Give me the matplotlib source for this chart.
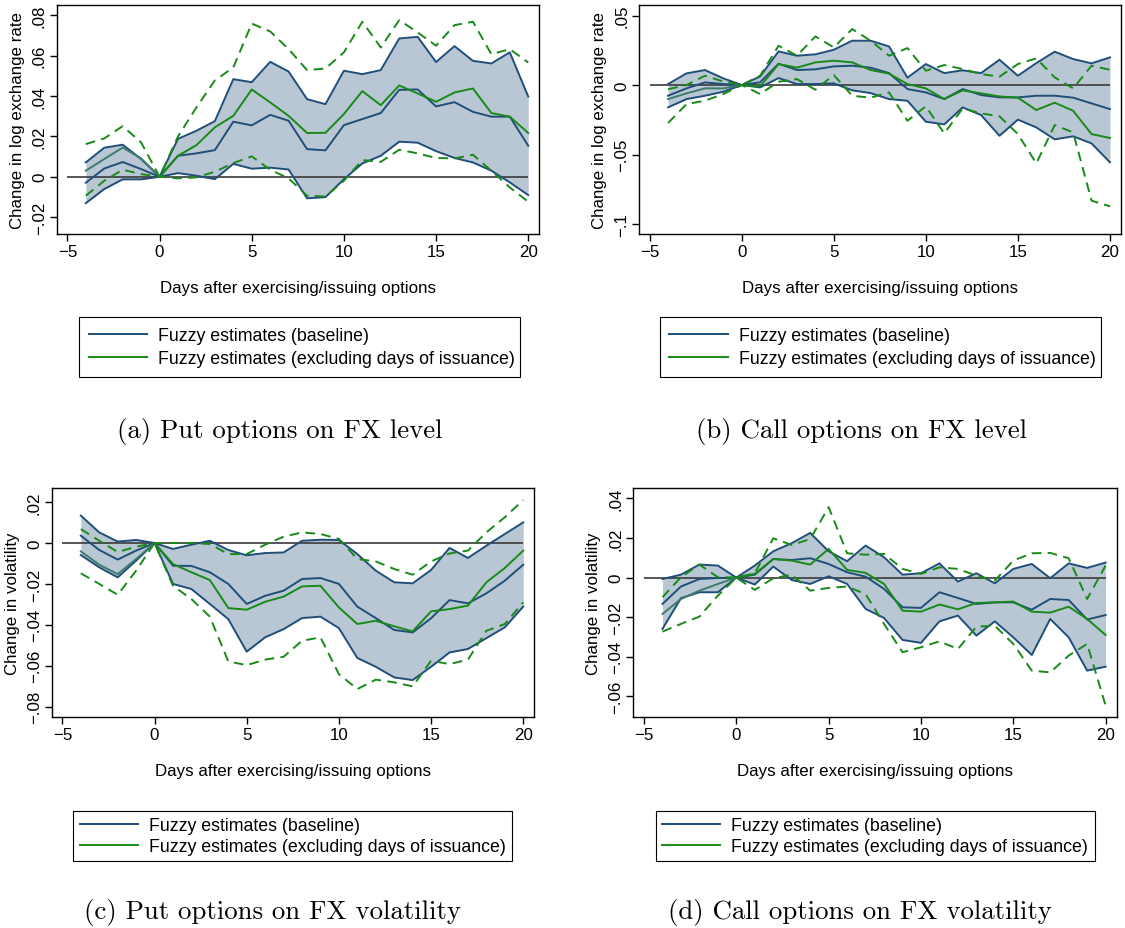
import numpy as np
import matplotlib.pyplot as plt
from matplotlib.lines import Line2D
from matplotlib.ticker import FuncFormatter

plt.rcParams['font.family'] = ['Liberation Sans', 'DejaVu Sans']

days = np.arange(-4, 21)
x_ticks = [-5, 0, 5, 10, 15, 20]

# (a) put options, FX level
a_base_hi = [0.0071, 0.0144, 0.0159, 0.0088, 0, 0.0188, 0.0228, 0.0276, 0.0484, 0.0469, 0.0570, 0.0522, 0.0385,
             0.0360, 0.0526, 0.0509, 0.0529, 0.0686, 0.0694, 0.0569, 0.0648, 0.0575, 0.0562, 0.0617, 0.0398]
a_base = [-0.0030, 0.0041, 0.0073, 0.0038, 0, 0.0104, 0.0116, 0.0132, 0.0273, 0.0255, 0.0307, 0.0278, 0.0137,
          0.0131, 0.0256, 0.0286, 0.0316, 0.0431, 0.0433, 0.0349, 0.0370, 0.0322, 0.0298, 0.0298, 0.0154]
a_base_lo = [-0.0131, -0.0061, -0.0013, -0.0013, 0, 0.0018, 0.0005, -0.0012, 0.0064, 0.0040, 0.0045, 0.0036, -0.0107,
             -0.0101, -0.0012, 0.0066, 0.0104, 0.0174, 0.0169, 0.0127, 0.0093, 0.0071, 0.0030, -0.0028, -0.0091]
a_excl = [0.0030, 0.0088, 0.0145, 0.0091, 0, 0.0104, 0.0157, 0.0245, 0.0302, 0.0433, 0.0369, 0.0302, 0.0217,
          0.0218, 0.0311, 0.0425, 0.0355, 0.0453, 0.0413, 0.0372, 0.0418, 0.0438, 0.0316, 0.0298, 0.0217]
a_excl_hi = [0.0162, 0.0190, 0.0251, 0.0170, 0, 0.0200, 0.0344, 0.0478, 0.0542, 0.0760, 0.0721, 0.0633, 0.0529,
             0.0537, 0.0617, 0.0769, 0.0641, 0.0777, 0.0716, 0.0650, 0.0752, 0.0769, 0.0608, 0.0633, 0.0567]
a_excl_lo = [-0.0094, -0.0020, 0.0035, 0.0013, 0, -0.0008, -0.0003, 0.0025, 0.0068, 0.0101, 0.0035, -0.0008, -0.0094,
             -0.0098, -0.0020, 0.0083, 0.0074, 0.0134, 0.0116, 0.0093, 0.0091, 0.0109, 0.0030, -0.0053, -0.0124]

# (b) call options, FX level
b_base_hi = [0.0007, 0.0084, 0.0108, 0.0048, 0, 0.0062, 0.0242, 0.0211, 0.0221, 0.0254, 0.0319, 0.0319, 0.0278,
             0.0053, 0.0151, 0.0086, 0.0106, 0.0086, 0.0182, 0.0067, 0.0158, 0.0240, 0.0187, 0.0156, 0.0199]
b_base = [-0.0077, -0.0024, 0.0019, 0.0007, 0, 0.0020, 0.0153, 0.0108, 0.0113, 0.0134, 0.0139, 0.0125, 0.0086,
          -0.0029, -0.0053, -0.0101, -0.0029, -0.0072, -0.0089, -0.0089, -0.0077, -0.0077, -0.0091, -0.0132, -0.0173]
b_base_lo = [-0.0161, -0.0101, -0.0077, -0.0048, 0, -0.0017, 0.0050, 0.0007, 0.0007, 0.0012, -0.0038, -0.0058, -0.0101,
             -0.0113, -0.0264, -0.0283, -0.0161, -0.0216, -0.0365, -0.0249, -0.0305, -0.0391, -0.0369, -0.0420, -0.0556]
b_excl = [-0.0101, -0.0060, -0.0024, -0.0024, 0, -0.0010, 0.0151, 0.0125, 0.0163, 0.0175, 0.0163, 0.0108, 0.0082,
          0.0007, -0.0024, -0.0101, -0.0038, -0.0060, -0.0082, -0.0091, -0.0180, -0.0127, -0.0185, -0.0353, -0.0381]
b_excl_hi = [-0.0030, 0.0000, 0.0067, 0.0025, 0, 0.0067, 0.0283, 0.0211, 0.0350, 0.0271, 0.0403, 0.0319, 0.0211,
             0.0266, 0.0103, 0.0144, 0.0115, 0.0079, 0.0060, 0.0151, 0.0192, 0.0055, -0.0024, 0.0139, 0.0110]
b_excl_lo = [-0.0273, -0.0137, -0.0113, -0.0065, 0, -0.0065, 0.0024, 0.0043, -0.0034, 0.0072, -0.0077, -0.0091, -0.0053,
             -0.0257, -0.0153, -0.0348, -0.0168, -0.0204, -0.0225, -0.0353, -0.0564, -0.0288, -0.0341, -0.0832, -0.0873]

# (c) put options, FX volatility
c_base_hi = [0.0134, 0.0052, 0.0007, 0.0015, 0, -0.0029, -0.0008, 0.0011, -0.0034, -0.0060, -0.0049, -0.0046, 0.0011,
             0.0016, 0.0015, -0.0054, -0.0135, -0.0192, -0.0197, -0.0132, -0.0024, -0.0073, -0.0013, 0.0044, 0.0101]
c_base = [0.0036, -0.0034, -0.0081, -0.0037, 0, -0.0111, -0.0112, -0.0143, -0.0200, -0.0298, -0.0258, -0.0233, -0.0176,
          -0.0171, -0.0200, -0.0311, -0.0367, -0.0425, -0.0437, -0.0368, -0.0279, -0.0295, -0.0246, -0.0184, -0.0106]
c_base_lo = [-0.0059, -0.0119, -0.0168, -0.0086, 0, -0.0200, -0.0225, -0.0298, -0.0372, -0.0531, -0.0461, -0.0421, -0.0367,
             -0.0360, -0.0416, -0.0562, -0.0605, -0.0657, -0.0670, -0.0605, -0.0535, -0.0518, -0.0465, -0.0412, -0.0311]
c_excl = [-0.0041, -0.0106, -0.0152, -0.0078, 0, -0.0103, -0.0143, -0.0181, -0.0318, -0.0326, -0.0287, -0.0262, -0.0212,
          -0.0209, -0.0315, -0.0396, -0.0380, -0.0407, -0.0432, -0.0334, -0.0323, -0.0306, -0.0192, -0.0122, -0.0037]
c_excl_hi = [0.0068, 0.0011, -0.0044, -0.0018, 0, 0.0000, 0.0000, -0.0005, -0.0054, -0.0054, -0.0008, 0.0031, 0.0052,
             0.0044, 0.0020, -0.0078, -0.0090, -0.0127, -0.0155, -0.0090, -0.0051, -0.0037, 0.0052, 0.0126, 0.0210]
c_excl_lo = [-0.0148, -0.0200, -0.0253, -0.0135, 0, -0.0209, -0.0274, -0.0360, -0.0579, -0.0597, -0.0570, -0.0556, -0.0478,
             -0.0461, -0.0641, -0.0714, -0.0668, -0.0681, -0.0701, -0.0575, -0.0592, -0.0570, -0.0429, -0.0396, -0.0290]

# (d) call options, FX volatility
d_base_hi = [-0.0007, 0.0015, 0.0066, 0.0061, 0, 0.0061, 0.0133, 0.0174, 0.0226, 0.0133, 0.0083, 0.0162, 0.0103,
             0.0015, 0.0022, 0.0072, -0.0020, 0.0022, -0.0029, 0.0044, 0.0069, -0.0003, 0.0072, 0.0049, 0.0076]
d_base = [-0.0133, -0.0045, -0.0007, -0.0002, 0, 0.0015, 0.0094, 0.0089, 0.0098, 0.0069, 0.0027, 0.0005, -0.0057,
          -0.0150, -0.0153, -0.0074, -0.0103, -0.0133, -0.0125, -0.0125, -0.0162, -0.0108, -0.0113, -0.0212, -0.0189]
d_base_lo = [-0.0259, -0.0104, -0.0074, -0.0074, 0, -0.0035, 0.0056, -0.0012, -0.0032, 0.0007, -0.0032, -0.0158, -0.0204,
             -0.0315, -0.0330, -0.0221, -0.0192, -0.0293, -0.0221, -0.0302, -0.0391, -0.0209, -0.0302, -0.0470, -0.0450]
d_excl = [-0.0184, -0.0108, -0.0066, -0.0032, 0, 0.0019, 0.0094, 0.0086, 0.0066, 0.0145, 0.0039, 0.0024, -0.0032,
          -0.0167, -0.0172, -0.0136, -0.0160, -0.0128, -0.0125, -0.0121, -0.0172, -0.0177, -0.0147, -0.0209, -0.0290]
d_excl_hi = [-0.0099, 0.0002, 0.0066, 0.0002, 0, 0.0022, 0.0199, 0.0165, 0.0195, 0.0356, 0.0123, 0.0116, 0.0120,
             0.0044, 0.0019, 0.0052, 0.0044, 0.0010, -0.0015, 0.0086, 0.0123, 0.0125, 0.0098, -0.0108, 0.0061]
d_excl_lo = [-0.0273, -0.0234, -0.0197, -0.0091, 0, -0.0062, -0.0003, 0.0015, -0.0066, -0.0052, -0.0045, -0.0083, -0.0234,
             -0.0377, -0.0352, -0.0322, -0.0361, -0.0248, -0.0243, -0.0335, -0.0470, -0.0479, -0.0394, -0.0335, -0.0647]

legend_labels = ['Fuzzy estimates (baseline)', 'Fuzzy estimates (excluding days of issuance)']
captions = ['(a) Put options on FX level', '(b) Call options on FX level',
            '(c) Put options on FX volatility', '(d) Call options on FX volatility']

NAVY = '#1f4e79'
GREEN = '#178a17'
GREEN_PRE = '#3d7c6c'   # green line where it sits under the shaded band
FILL = '#b9c7d4'
W, H = 1125, 929


def stata_fmt(v, pos):
    if abs(v) < 1e-12:
        return '0'
    s = f'{abs(v):.2f}'.rstrip('0').lstrip('0')
    return ('\u2212' if v < 0 else '') + s


def px_rect(left, top, right, bottom):
    return [left / W, 1 - bottom / H, (right - left) / W, (bottom - top) / H]


def draw_panel(ax, base_lo, base, base_hi, excl_lo, excl, excl_hi, yticks, ylim, ylabel):
    ax.fill_between(days, base_lo, base_hi, color=FILL, lw=0, zorder=1)
    ax.hlines(0, x_ticks[0], x_ticks[-1], color='#3a3a3a', lw=1.2, zorder=2)
    for s in (base_lo, base, base_hi):
        ax.plot(days, s, color=NAVY, lw=1.4, zorder=3)
    excl = np.asarray(excl)
    ax.plot(days[:5], excl[:5], color=GREEN_PRE, lw=1.4, zorder=4)
    ax.plot(days[4:], excl[4:], color=GREEN, lw=1.4, zorder=4)
    for s in (excl_lo, excl_hi):
        ax.plot(days, s, color=GREEN, lw=1.4, ls=(0, (5, 3.2)), zorder=4)

    ax.set_xlim(-5.58, 20.6)
    ax.set_ylim(*ylim)
    ax.set_xticks(x_ticks)
    ax.set_yticks(yticks)
    ax.yaxis.set_major_formatter(FuncFormatter(stata_fmt))
    ax.xaxis.set_major_formatter(FuncFormatter(lambda v, p: f'{v:g}'.replace('-', '\u2212')))
    ax.tick_params(direction='out', length=5, width=1, labelsize=12.2, pad=2)
    plt.setp(ax.get_yticklabels(), rotation=90, va='center')
    for sp in ax.spines.values():
        sp.set_linewidth(1.0)
        sp.set_color('black')
    ax.set_xlabel('Days after exercising/issuing options', fontsize=12.2)
    ax.xaxis.label.set_va('center')
    ax.xaxis.set_label_coords(0.5, -0.232)
    ax.set_ylabel(ylabel, fontsize=12.2)
    ax.yaxis.label.set_va('center')
    ax.yaxis.set_label_coords(-0.082, 0.5)


fig = plt.figure(figsize=(W / 100, H / 100), dpi=100)

# axes rect, series, y ticks, y limits, y label, legend (x, top, width, row gap, pad), caption centre
panels = [
    (px_rect(56.7, 6, 539.3, 235), (a_base_lo, a_base, a_base_hi, a_excl_lo, a_excl, a_excl_hi),
     [-0.02, 0, 0.02, 0.04, 0.06, 0.08], (-0.0284, 0.0852), 'Change in log exchange rate',
     (79, 318, 441, 0.36, 0.55), (280, 432)),
    (px_rect(639, 6, 1121, 235), (b_base_lo, b_base, b_base_hi, b_excl_lo, b_excl, b_excl_hi),
     [-0.1, -0.05, 0, 0.05], (-0.1072, 0.0576), 'Change in log exchange rate',
     (659.5, 318, 441, 0.36, 0.55), (861, 432)),
    (px_rect(51.7, 489, 534.3, 718.3), (c_base_lo, c_base, c_base_hi, c_excl_lo, c_excl, c_excl_hi),
     [-0.08, -0.06, -0.04, -0.02, 0, 0.02], (-0.0852, 0.0269), 'Change in volatility',
     (73.3, 812, 438.4, 0.2, 0.35), (273, 913)),
    (px_rect(633.3, 489, 1116.7, 718.3), (d_base_lo, d_base, d_base_hi, d_excl_lo, d_excl, d_excl_hi),
     [-0.06, -0.04, -0.02, 0, 0.02, 0.04], (-0.0706, 0.0453), 'Change in volatility',
     (655.5, 812, 439, 0.2, 0.35), (860, 913)),
]

handles = [Line2D([], [], color=NAVY, lw=1.4), Line2D([], [], color=GREEN, lw=1.4)]

for (rect, series, yticks, ylim, ylabel, leg_box, cap_xy), caption in zip(panels, captions):
    ax = fig.add_axes(rect)
    draw_panel(ax, *series, yticks, ylim, ylabel)

    lx, ly, lw_, gap, pad = leg_box
    leg = ax.legend(handles, legend_labels, loc='upper left',
                    bbox_to_anchor=(lx / W, 1 - ly / H, lw_ / W, 0),
                    bbox_transform=fig.transFigure, mode='expand', borderaxespad=0,
                    fontsize=12.8, handlelength=3.3, handletextpad=0.6, labelspacing=gap,
                    borderpad=pad, fancybox=False, framealpha=1, edgecolor='black')
    leg.get_frame().set_linewidth(0.8)

    fig.text(cap_xy[0] / W, 1 - cap_xy[1] / H, caption, ha='center', va='center',
             family='cmr10', fontsize=19.3)

fig.savefig('out.png', dpi=100)
